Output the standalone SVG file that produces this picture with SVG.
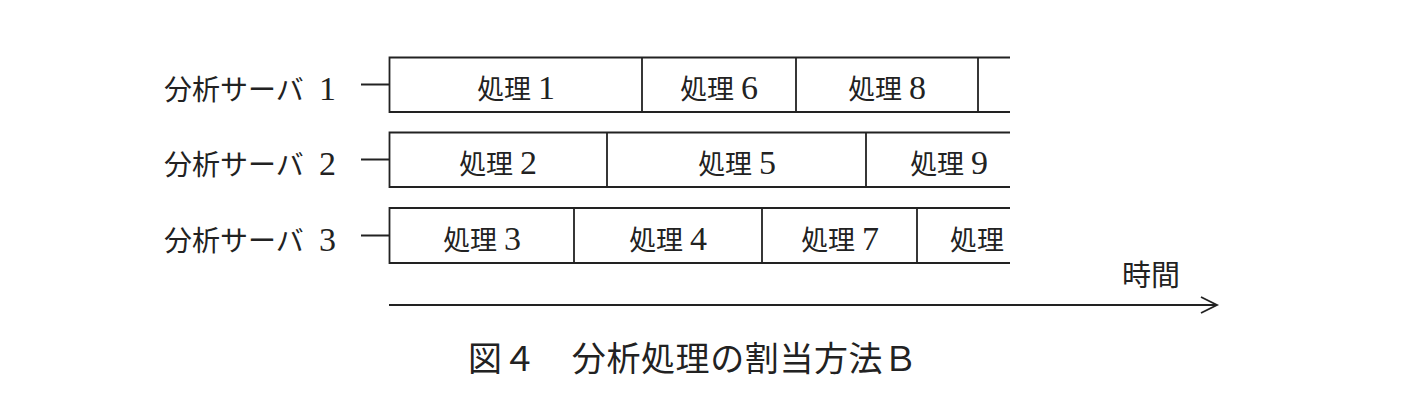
<svg xmlns="http://www.w3.org/2000/svg" width="1414" height="416" viewBox="0 0 1414 416">
<style>
.ln{stroke:#222;stroke-width:1.8;fill:none}
.lbl{font-family:"Liberation Serif","Noto Sans CJK JP",serif;font-size:28px;fill:#222}
.cell{font-family:"Liberation Serif","Noto Sans CJK JP",serif;font-size:27px;fill:#222;text-anchor:middle}
.d{font-size:34px}
.cap{font-family:"Noto Sans CJK JP",sans-serif;font-size:34px;letter-spacing:0.6px;fill:#222}
.time{font-family:"Noto Sans CJK JP",sans-serif;font-size:29px;fill:#222}
</style>
<rect width="1414" height="416" fill="#fff"/>
<g id="server1">
<text class="lbl" x="164" y="100">分析サーバ<tspan class="d" x="319">1</tspan></text>
<path class="ln" d="M361,84.5H389.5M1010,57.5H389.5V112H1010M642,57.5V112M796,57.5V112M978,57.5V112"/>
<text class="cell" x="516" y="99">処理 <tspan class="d">1</tspan></text>
<text class="cell" x="719" y="99">処理 <tspan class="d">6</tspan></text>
<text class="cell" x="887" y="99">処理 <tspan class="d">8</tspan></text>
</g>
<g id="server2">
<text class="lbl" x="164" y="175">分析サーバ<tspan class="d" x="319">2</tspan></text>
<path class="ln" d="M361,159.5H389.5M1010,132.5H389.5V187H1010M607,132.5V187M866,132.5V187"/>
<text class="cell" x="498" y="174">処理 <tspan class="d">2</tspan></text>
<text class="cell" x="737" y="174">処理 <tspan class="d">5</tspan></text>
<text class="cell" x="949" y="174">処理 <tspan class="d">9</tspan></text>
</g>
<g id="server3">
<text class="lbl" x="164" y="251">分析サーバ<tspan class="d" x="319">3</tspan></text>
<path class="ln" d="M361,235.5H389.5M1010,208H389.5V263H1010M574,208V263M762,208V263M917,208V263"/>
<text class="cell" x="482" y="250">処理 <tspan class="d">3</tspan></text>
<text class="cell" x="668" y="250">処理 <tspan class="d">4</tspan></text>
<text class="cell" x="840" y="250">処理 <tspan class="d">7</tspan></text>
<text class="cell" x="977" y="250">処理</text>
</g>
<g id="connectors">
<path class="ln" d="M389,305H1216"/>
<polyline class="ln" points="1201,297 1217,305 1201,313"/>
</g>
<text class="time" x="1122" y="286">時間</text>
<text class="cap" x="468" y="371">図４　分析処理の割当方法Ｂ</text>
</svg>
